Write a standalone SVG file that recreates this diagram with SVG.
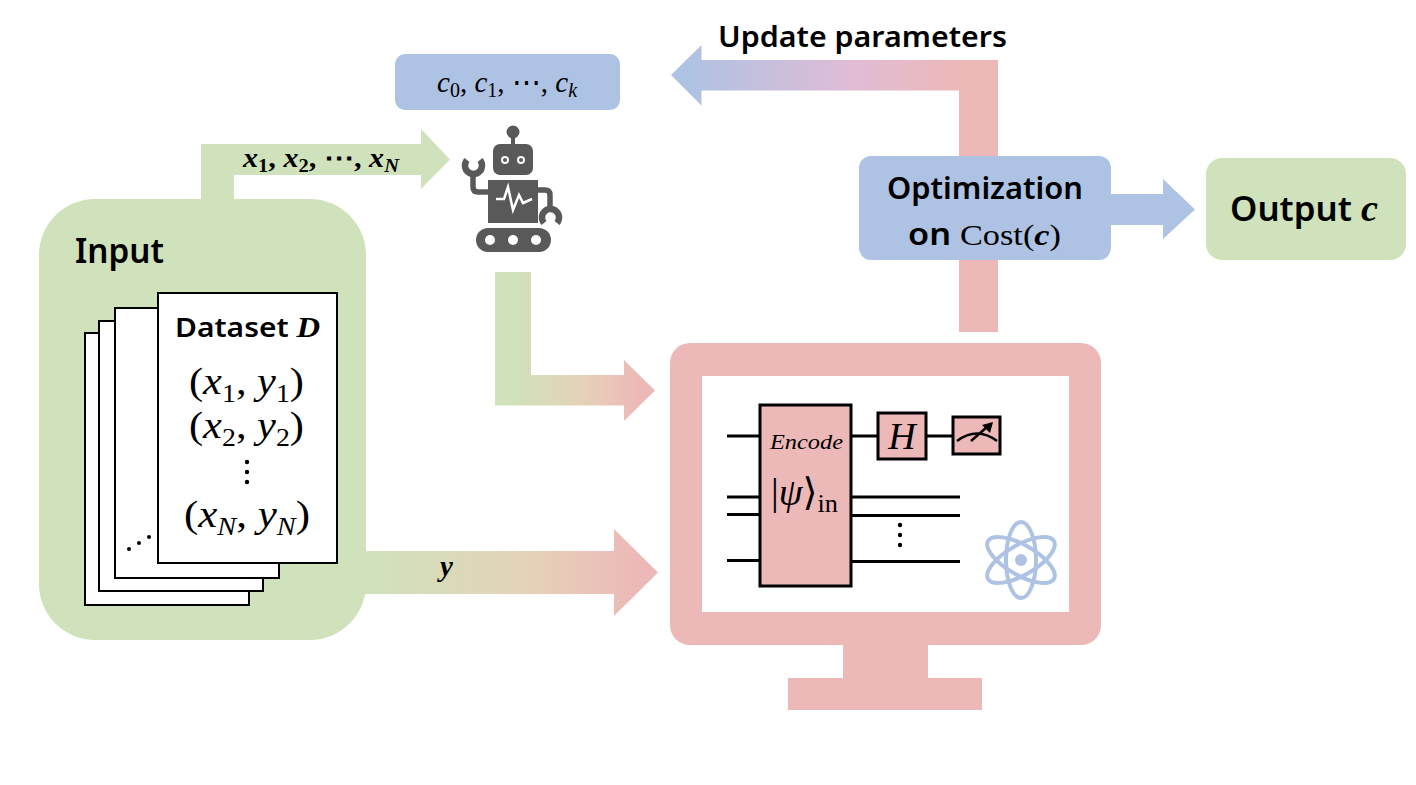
<svg xmlns="http://www.w3.org/2000/svg" width="1416" height="785" viewBox="0 0 1416 785">
<style>
.green{fill:#CFE2BB}.blue{fill:#AEC2E3}.pink{fill:#EDB8B8}
.sans{font-family:"Noto Sans","Open Sans","Liberation Sans",sans-serif;font-weight:600;fill:#000}
.math{font-family:"Liberation Serif","DejaVu Serif",serif;font-style:italic;font-weight:400;fill:#000}
.up{font-style:normal}
.bm{font-weight:700}
.paper{fill:#fff;stroke:#000;stroke-width:2}
.wire{fill:none;stroke:#000;stroke-width:3}
.gate{fill:#EDB8B8;stroke:#000;stroke-width:3}
.rb{fill:#595959}
.rbl{fill:none;stroke:#595959;stroke-width:5.5}
.atom{fill:none;stroke:#AEC2E3;stroke-width:4}
</style>
<defs>
<linearGradient id="g1" gradientUnits="userSpaceOnUse" x1="510" y1="0" x2="640" y2="0"><stop offset="0" stop-color="#CFE2BB"/><stop offset=".55" stop-color="#E5D2B8"/><stop offset="1" stop-color="#EDB8B8"/></linearGradient>
<linearGradient id="g2" gradientUnits="userSpaceOnUse" x1="366" y1="0" x2="640" y2="0"><stop offset="0" stop-color="#CFE2BB"/><stop offset=".6" stop-color="#E5D2B8"/><stop offset="1" stop-color="#EDB8B8"/></linearGradient>
<linearGradient id="g3" gradientUnits="userSpaceOnUse" x1="685" y1="0" x2="960" y2="0"><stop offset="0" stop-color="#AEC2E3"/><stop offset=".6" stop-color="#E0BCD6"/><stop offset="1" stop-color="#EDB8B8"/></linearGradient>
</defs>

<g id="connectors">
<path class="green" d="M201 205V144H421V129L450 159.5L421 189V175H234V205Z"/>
<path fill="url(#g1)" d="M495 272H531V375H624V360L655 390.5L624 421V405.5H495Z"/>
<path fill="url(#g2)" d="M360 551H614V529L658 572.5L614 616V594H360Z"/>
<path fill="url(#g3)" d="M998 60V332H959V90.5H701.5V105.5L671 75L701.5 45V60Z"/>
<path class="blue" d="M1105 194H1163V179L1195 209.5L1163 239V225H1105Z"/>
</g>

<g id="input">
<rect class="green" x="39" y="199" width="327" height="441" rx="56"/>
<text class="sans" x="75" y="263" font-size="33.5" textLength="89" lengthAdjust="spacingAndGlyphs">Input</text>
</g>

<g id="dataset">
<rect class="paper" x="85" y="333" width="164" height="272"/>
<rect class="paper" x="99" y="321" width="164" height="270"/>
<rect class="paper" x="115" y="308" width="164" height="270"/>
<circle cx="129" cy="549" r="2"/><circle cx="139" cy="543" r="2"/><circle cx="149" cy="537" r="2"/>
<rect class="paper" x="158" y="293" width="179" height="270"/>
<text class="sans" x="175" y="337" font-size="27.5" textLength="145" lengthAdjust="spacingAndGlyphs">Dataset <tspan class="math bm" font-size="30">D</tspan></text>
<text class="math" x="189" y="394" font-size="38" textLength="115" lengthAdjust="spacingAndGlyphs"><tspan class="up">(</tspan>x<tspan font-size="25" dy="8" class="up">1</tspan><tspan dy="-8" class="up">, </tspan>y<tspan font-size="25" dy="8" class="up">1</tspan><tspan dy="-8" class="up">)</tspan></text>
<text class="math" x="189" y="438" font-size="38" textLength="115" lengthAdjust="spacingAndGlyphs"><tspan class="up">(</tspan>x<tspan font-size="25" dy="8" class="up">2</tspan><tspan dy="-8" class="up">, </tspan>y<tspan font-size="25" dy="8" class="up">2</tspan><tspan dy="-8" class="up">)</tspan></text>
<circle cx="247" cy="462" r="2.2"/><circle cx="247" cy="472" r="2.2"/><circle cx="247" cy="482" r="2.2"/>
<text class="math" x="184" y="527" font-size="38" textLength="126" lengthAdjust="spacingAndGlyphs"><tspan class="up">(</tspan>x<tspan font-size="25" dy="8">N</tspan><tspan dy="-8" class="up">, </tspan>y<tspan font-size="25" dy="8">N</tspan><tspan dy="-8" class="up">)</tspan></text>
</g>

<text id="label-x" class="math bm" x="243" y="167" font-size="28" textLength="156" lengthAdjust="spacingAndGlyphs">x<tspan font-size="19" dy="5" class="up">1</tspan><tspan dy="-5" class="up">, </tspan>x<tspan font-size="19" dy="5" class="up">2</tspan><tspan dy="-5" class="up">, ⋯, </tspan>x<tspan font-size="19" dy="5">N</tspan></text>
<text id="label-y" class="math bm" x="440" y="576" font-size="29">y</text>
<text id="label-update" class="sans" x="718" y="47" font-size="28.5" textLength="289" lengthAdjust="spacingAndGlyphs">Update parameters</text>

<g id="params">
<rect class="blue" x="395" y="54" width="225" height="56" rx="10"/>
<text class="math" x="437" y="92" font-size="29">c<tspan font-size="20" dy="5" class="up">0</tspan><tspan dy="-5" class="up">, </tspan>c<tspan font-size="20" dy="5" class="up">1</tspan><tspan dy="-5" class="up">, ⋯, </tspan>c<tspan font-size="20" dy="5">k</tspan></text>
</g>

<g id="robot">
<circle class="rb" cx="513" cy="132" r="6.5"/>
<rect class="rb" x="511" y="135" width="4" height="12"/>
<rect class="rb" x="493" y="144" width="40" height="31" rx="7"/>
<circle cx="505" cy="160" r="3" fill="none" stroke="#fff" stroke-width="2"/>
<circle cx="521" cy="160" r="3" fill="none" stroke="#fff" stroke-width="2"/>
<rect class="rb" x="488" y="180" width="50" height="43"/>
<polyline points="496,199 504,199 508,187 513,210 519,195 523,203 532,199" fill="none" stroke="#fff" stroke-width="2.5"/>
<path class="rbl" d="M488 192H478Q473 192 473 187V172"/>
<path d="M467 160A8.5 8.5 0 1 0 480 160" fill="none" stroke="#595959" stroke-width="6.5"/>
<path class="rbl" d="M538 190H545Q550 190 550 195V210"/>
<path d="M544 223A8.5 8.5 0 1 1 557 223" fill="none" stroke="#595959" stroke-width="6.5"/>
<rect class="rb" x="476" y="228" width="75" height="24" rx="12"/>
<circle cx="490" cy="240" r="5" fill="#fff"/><circle cx="513" cy="240" r="5" fill="#fff"/><circle cx="536" cy="240" r="5" fill="#fff"/>
</g>

<g id="optimization">
<rect class="blue" x="859" y="156" width="252" height="104" rx="12"/>
<text class="sans" x="887" y="199" font-size="30" textLength="196" lengthAdjust="spacingAndGlyphs">Optimization</text>
<text class="sans" x="908" y="245" font-size="30" textLength="153" lengthAdjust="spacingAndGlyphs">on <tspan class="math up">Cost(</tspan><tspan class="math bm">c</tspan><tspan class="math up">)</tspan></text>
</g>

<g id="output">
<rect class="green" x="1206" y="158" width="200" height="102" rx="16"/>
<text class="sans" x="1230" y="221" font-size="34.5" textLength="148" lengthAdjust="spacingAndGlyphs">Output <tspan class="math bm" font-size="38">c</tspan></text>
</g>

<g id="computer">
<rect class="pink" x="843" y="640" width="85" height="40"/>
<rect class="pink" x="788" y="678" width="194" height="32"/>
<rect class="pink" x="670" y="343" width="431" height="302" rx="20"/>
<rect x="702" y="376" width="367" height="236" fill="#fff"/>
</g>

<g id="circuit">
<path class="wire" d="M727 436H760M727 497H760M727 514.5H760M727 560.5H760M851 436H878M926 436H953M851 497H960M851 515.5H960M851 561.5H960"/>
<rect class="gate" x="760" y="405" width="91" height="181"/>
<rect class="gate" x="878" y="413" width="48" height="46"/>
<rect class="gate" x="953" y="417" width="47" height="37"/>
<path d="M957 441Q977 426 997 441" fill="none" stroke="#000" stroke-width="2.5"/>
<path d="M971 441L987 427" fill="none" stroke="#000" stroke-width="2.5"/>
<path d="M993 422L990 433L982 425Z"/>
<text x="770" y="449" font-family="'Liberation Serif',serif" font-style="italic" font-size="22" textLength="73" lengthAdjust="spacingAndGlyphs">Encode</text>
<text class="math" x="902" y="449" font-size="38" text-anchor="middle">H</text>
<text class="math" x="771" y="505" font-size="38" textLength="67" lengthAdjust="spacingAndGlyphs"><tspan class="up">|</tspan>ψ<tspan class="up">⟩</tspan><tspan class="up" font-size="26" dy="7">in</tspan></text>
<circle cx="900" cy="525" r="2.2"/><circle cx="900" cy="535" r="2.2"/><circle cx="900" cy="545" r="2.2"/>
</g>

<g id="atom">
<ellipse class="atom" cx="1021" cy="560" rx="38" ry="15" transform="rotate(90 1021 560)"/>
<ellipse class="atom" cx="1021" cy="560" rx="38" ry="15" transform="rotate(30 1021 560)"/>
<ellipse class="atom" cx="1021" cy="560" rx="38" ry="15" transform="rotate(-30 1021 560)"/>
<circle class="blue" cx="1021" cy="560" r="6"/>
</g>
</svg>
